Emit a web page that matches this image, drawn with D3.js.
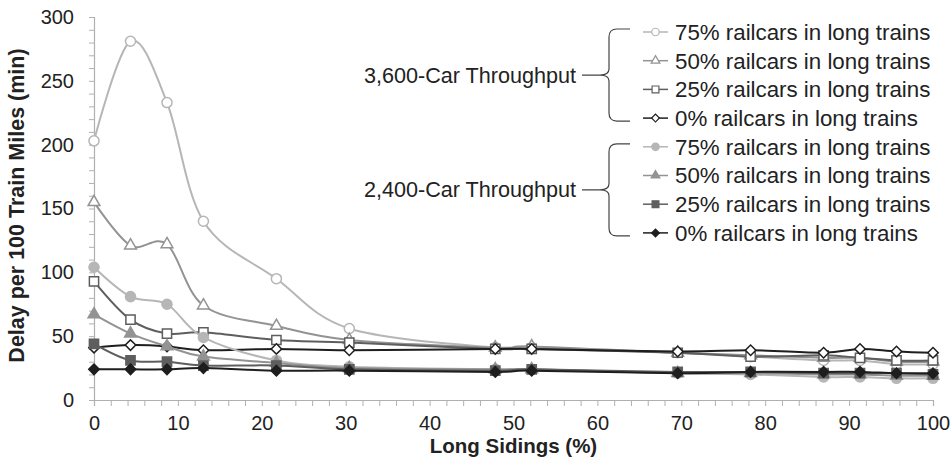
<!DOCTYPE html>
<html lang="en">
  <head>
    <meta charset="utf-8" />
    <title>Delay vs Long Sidings</title>
    <script src="https://cdn.jsdelivr.net/npm/d3@7"></script>
    <style>
      body { margin: 0; background: #fff; }
      text { font-family: "Liberation Sans", Arial, sans-serif; fill: #222; }
    </style>
  </head>
  <body>
    <script>
      // long sidings (%) -- k/23 of sidings
      const sidings = [0, 4.35, 8.7, 13.04, 21.74, 30.43, 47.83, 52.17, 69.57, 78.26, 86.96, 91.3, 95.65, 100];

      // 3,600-car throughput (open markers)
      const open75 = [203, 281, 233, 140, 95, 56, 41, 41, 37, 34, 31, 31, 28, 28];
      const open50 = [155, 121, 122, 74, 58, 47, 41, 42, 37, 35, 33, 33, 30, 30];
      const open25 = [93, 63, 52, 53, 47, 45, 40, 40, 37, 34, 35, 33, 31, 31];
      const open0 = [41, 43, 42, 39, 40, 39, 40, 40, 38, 39, 37, 40, 38, 37];

      // 2,400-car throughput (filled markers)
      const fill75 = [104, 81, 75, 49, 31, 26, 24, 24, 21, 20, 18, 18, 17, 17];
      const fill50 = [67, 52, 42, 34, 29, 25, 24, 24, 21, 21, 20, 20, 19, 19];
      const fill25 = [44, 31, 30, 27, 27, 24, 23, 24, 22, 22, 21, 21, 21, 20];
      const fill0 = [24, 24, 24, 25, 23, 23, 22, 23, 21, 22, 22, 22, 21, 21];

      const seriesNames = ["75% railcars in long trains", "50% railcars in long trains", "25% railcars in long trains", "0% railcars in long trains"];
      const groupNames = ["3,600-Car Throughput", "2,400-Car Throughput"];
      const yTicks = [0, 50, 100, 150, 200, 250, 300];
      const xTicks = [0, 10, 20, 30, 40, 50, 60, 70, 80, 90, 100];

      const colors = ["#b6b6b6", "#939393", "#5e5e5e", "#1e1e1e"];
      const shapes = ["circle", "triangle", "square", "diamond"];

      const series = [
        { vals: open75, k: 0, filled: false },
        { vals: open50, k: 1, filled: false },
        { vals: open25, k: 2, filled: false },
        { vals: open0, k: 3, filled: false },
        { vals: fill75, k: 0, filled: true },
        { vals: fill50, k: 1, filled: true },
        { vals: fill25, k: 2, filled: true },
        { vals: fill0, k: 3, filled: true },
      ];

      const width = 952, height = 475;
      const svg = d3.select("body").append("svg").attr("width", width).attr("height", height);

      const x = d3.scaleLinear().domain([0, 100]).range([94, 933]);
      const y = d3.scaleLinear().domain([0, 300]).range([400, 17]);

      // axes
      const yAxis = svg.append("g").attr("transform", `translate(${x(0)},0)`)
        .call(d3.axisLeft(y).tickValues(d3.range(0, 301, 10)).tickSize(5).tickFormat(d => yTicks.includes(d) ? d : ""));
      const xAxis = svg.append("g").attr("transform", `translate(0,${y(0)})`)
        .call(d3.axisBottom(x).tickValues(d3.range(0, 101, 2)).tickSize(6).tickFormat(d => xTicks.includes(d) ? d : ""));
      [xAxis, yAxis].forEach(g => {
        g.select(".domain").attr("stroke", "#b0b0b0").attr("stroke-width", 1.2);
        g.selectAll(".tick line").attr("stroke", "#b0b0b0");
        g.selectAll(".tick text").style("font-size", "20px").attr("fill", "#222");
      });
      yAxis.selectAll(".tick text").attr("x", -20);
      xAxis.selectAll(".tick text").attr("y", 16);

      svg.append("text").attr("x", x(50)).attr("y", 453).attr("text-anchor", "middle")
        .style("font-size", "20.5px").style("font-weight", "bold").text("Long Sidings (%)");
      svg.append("text").attr("transform", `translate(24,${y(150) - 3}) rotate(-90)`).attr("text-anchor", "middle")
        .style("font-size", "21.5px").style("font-weight", "bold").text("Delay per 100 Train Miles (min)");

      function markerPath(shape, s) {
        if (shape === "circle") return d3.symbol(d3.symbolCircle, 80 * s)();
        if (shape === "triangle") return d3.symbol(d3.symbolTriangle, 60 * s)();
        if (shape === "square") return d3.symbol(d3.symbolSquare, 85 * s)();
        return d3.symbol(d3.symbolSquare, 55 * s)();
      }

      function drawMarker(g, sr, cx, cy, s, sw) {
        g.append("path")
          .attr("d", markerPath(shapes[sr.k], s))
          .attr("transform", `translate(${cx},${cy})` + (shapes[sr.k] === "diamond" ? " rotate(45)" : ""))
          .attr("fill", sr.filled ? colors[sr.k] : "#fff")
          .attr("stroke", colors[sr.k])
          .attr("stroke-width", sw);
      }

      const line = d3.line().x((d, i) => x(sidings[i])).y(d => y(d)).curve(d3.curveCardinal.tension(0));

      series.forEach(sr => {
        const g = svg.append("g");
        g.append("path").datum(sr.vals).attr("d", line).attr("fill", "none")
          .attr("stroke", colors[sr.k]).attr("stroke-width", 2);
        sr.vals.forEach((v, i) => drawMarker(g, sr, x(sidings[i]), y(v), 1, 1.5));
      });

      // legend
      const rowY = d3.range(8).map(i => 32 + i * 28.7);
      const leg = svg.append("g");
      series.forEach((sr, i) => {
        leg.append("line").attr("x1", 643).attr("x2", 668).attr("y1", rowY[i]).attr("y2", rowY[i])
          .attr("stroke", colors[sr.k]).attr("stroke-width", 1.5);
        drawMarker(leg, sr, 655.5, rowY[i], 0.55, 1.2);
        leg.append("text").attr("x", 675).attr("y", rowY[i]).attr("dy", "0.35em")
          .style("font-size", "22.3px").text(seriesNames[sr.k]);
      });

      groupNames.forEach((name, gi) => {
        const top = rowY[gi * 4] - 3, bot = rowY[gi * 4 + 3] + 3, mid = (top + bot) / 2;
        const bx = 609;
        const p = d3.path();
        p.moveTo(630, top);
        p.lineTo(bx + 8, top);
        p.quadraticCurveTo(bx, top, bx, top + 8);
        p.lineTo(bx, mid - 6);
        p.quadraticCurveTo(bx, mid, bx - 9, mid);
        p.lineTo(582, mid);
        p.moveTo(bx - 9, mid);
        p.quadraticCurveTo(bx, mid, bx, mid + 6);
        p.lineTo(bx, bot - 8);
        p.quadraticCurveTo(bx, bot, bx + 8, bot);
        p.lineTo(630, bot);
        leg.append("path").attr("d", p.toString()).attr("fill", "none").attr("stroke", "#444").attr("stroke-width", 1.2);
        leg.append("text").attr("x", 576).attr("y", mid).attr("dy", "0.35em").attr("text-anchor", "end")
          .style("font-size", "21.6px").text(name);
      });
    </script>
  </body>
</html>
